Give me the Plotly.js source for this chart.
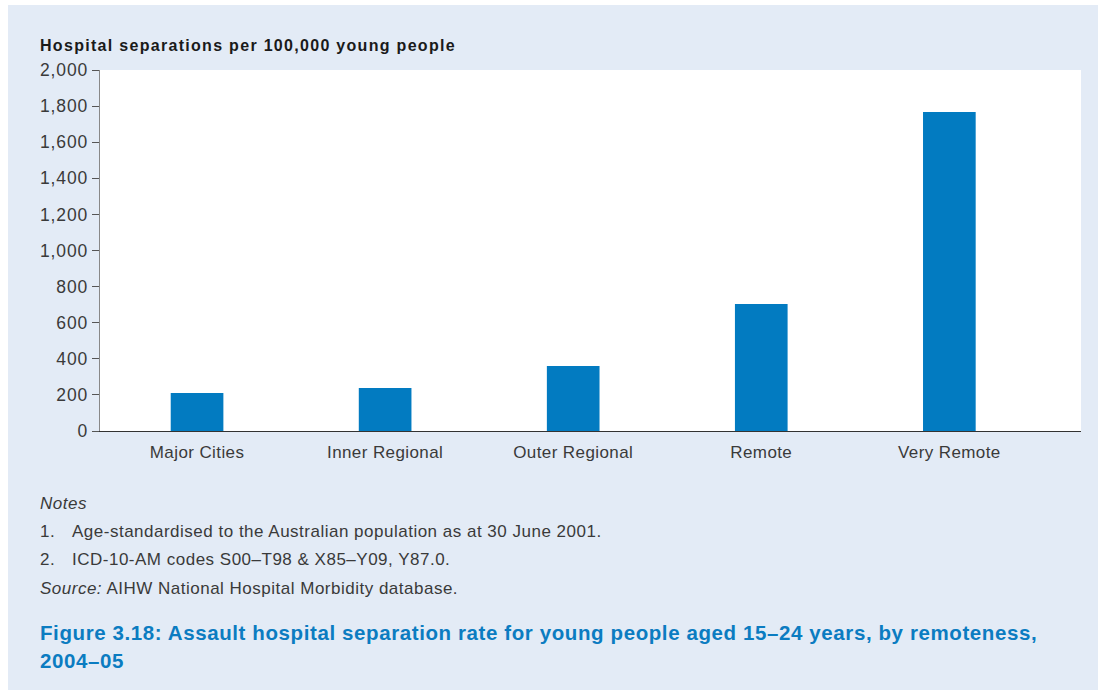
<!DOCTYPE html>
<html>
<head>
<meta charset="utf-8">
<script src="https://cdn.plot.ly/plotly-3.0.1.min.js"></script>
<style>
html,body{margin:0;padding:0;background:#ffffff;width:1098px;height:690px;overflow:hidden;}
#chart{position:absolute;left:8px;top:5px;width:1090px;height:685px;}
#chart .xtick text{letter-spacing:0.4px;}
#chart .ytick text{letter-spacing:0.9px;}
#chart .annotation-text{letter-spacing:0.5px;}
#chart .annotation.ttl text{letter-spacing:1.3px;}
#chart .annotation.cap text{letter-spacing:0.6px;}
</style>
</head>
<body>
<div id="chart"></div>
<script>
const categories = ["Major Cities", "Inner Regional", "Outer Regional", "Remote", "Very Remote"];
const rates = [210, 238, 360, 704, 1767];
const yTickVals = [0, 200, 400, 600, 800, 1000, 1200, 1400, 1600, 1800, 2000];
const yTickText = ["0", "200", "400", "600", "800", "1,000", "1,200", "1,400", "1,600", "1,800", "2,000"];

const yAxisTitle = "Hospital separations per 100,000 young people";
const notesHeading = "Notes";
const notes = ["Age-standardised to the Australian population as at 30 June 2001.",
               "ICD-10-AM codes S00–T98 &amp; X85–Y09, Y87.0."];
const sourceLabel = "Source:";
const sourceText = " AIHW National Hospital Morbidity database.";
const figureTitle = ["Figure 3.18: Assault hospital separation rate for young people aged 15–24 years, by remoteness,", "2004–05"];

// plot area in page pixels: x 100..1081, y 70..431
const PX0 = 100, PX1 = 1081, PY0 = 70, PY1 = 431;
const px = v => (v - PX0) / (PX1 - PX0);
const py = v => (PY1 - v) / (PY1 - PY0);

const font = "'Liberation Sans', Arial, Helvetica, sans-serif";
const textColor = "#3a3a3a";

const annotations = [];
function addText(text, x, y, size, opts) {
  annotations.push(Object.assign({
    text: text, xref: "paper", yref: "paper", x: px(x), y: py(y),
    xanchor: "left", yanchor: "middle", align: "left", showarrow: false,
    font: {family: font, size: size, color: textColor}
  }, opts || {}));
}
addText("<b>" + yAxisTitle + "</b>", 38, 45, 16, {font: {family: font, size: 16, color: "#1a1a1a"}});
addText("<i>" + notesHeading + "</i>", 38, 503, 17);
notes.forEach((n, i) => {
  addText((i + 1) + ".", 38, 531 + i * 28, 17);
  addText(n, 70, 531 + i * 28, 17);
});
addText("<i>" + sourceLabel + "</i>" + sourceText, 38, 588, 17);
figureTitle.forEach((t, i) => {
  addText("<b>" + t + "</b>", 38, 632 + i * 28, 20.5, {font: {family: font, size: 20.5, color: "#0b7cc1"}});
});

const trace = {
  type: "bar",
  x: categories,
  y: rates,
  width: 0.28,
  marker: {color: "#027bc1", line: {width: 0}},
  hoverinfo: "x+y"
};

const layout = {
  width: 1090, height: 685,
  margin: {l: 92, r: 17, t: 65, b: 259, pad: 0},
  paper_bgcolor: "#e3ebf6",
  plot_bgcolor: "#ffffff",
  showlegend: false,
  font: {family: font, color: textColor},
  xaxis: {
    type: "category",
    range: [-0.516, 4.70],
    showgrid: false, zeroline: false,
    showline: true, linecolor: "#333333", linewidth: 1.3,
    ticks: "", ticklabelstandoff: 5,
    tickfont: {family: font, size: 17, color: textColor},
    fixedrange: true
  },
  yaxis: {
    range: [0, 2000],
    tickvals: yTickVals, ticktext: yTickText,
    showgrid: false, zeroline: false,
    showline: true, linecolor: "#888888", linewidth: 1.3,
    ticks: "outside", ticklen: 7, tickcolor: "#555555", tickwidth: 1,
    tickfont: {family: font, size: 17.5, color: textColor},
    fixedrange: true
  },
  annotations: annotations
};

Plotly.newPlot("chart", [trace], layout, {displayModeBar: false, staticPlot: true}).then(function (gd) {
  const anns = gd.querySelectorAll(".annotation");
  if (anns.length) anns[0].classList.add("ttl");
  const n = anns.length;
  if (n >= 2) { anns[n - 1].classList.add("cap"); anns[n - 2].classList.add("cap"); }
});
</script>
</body>
</html>
